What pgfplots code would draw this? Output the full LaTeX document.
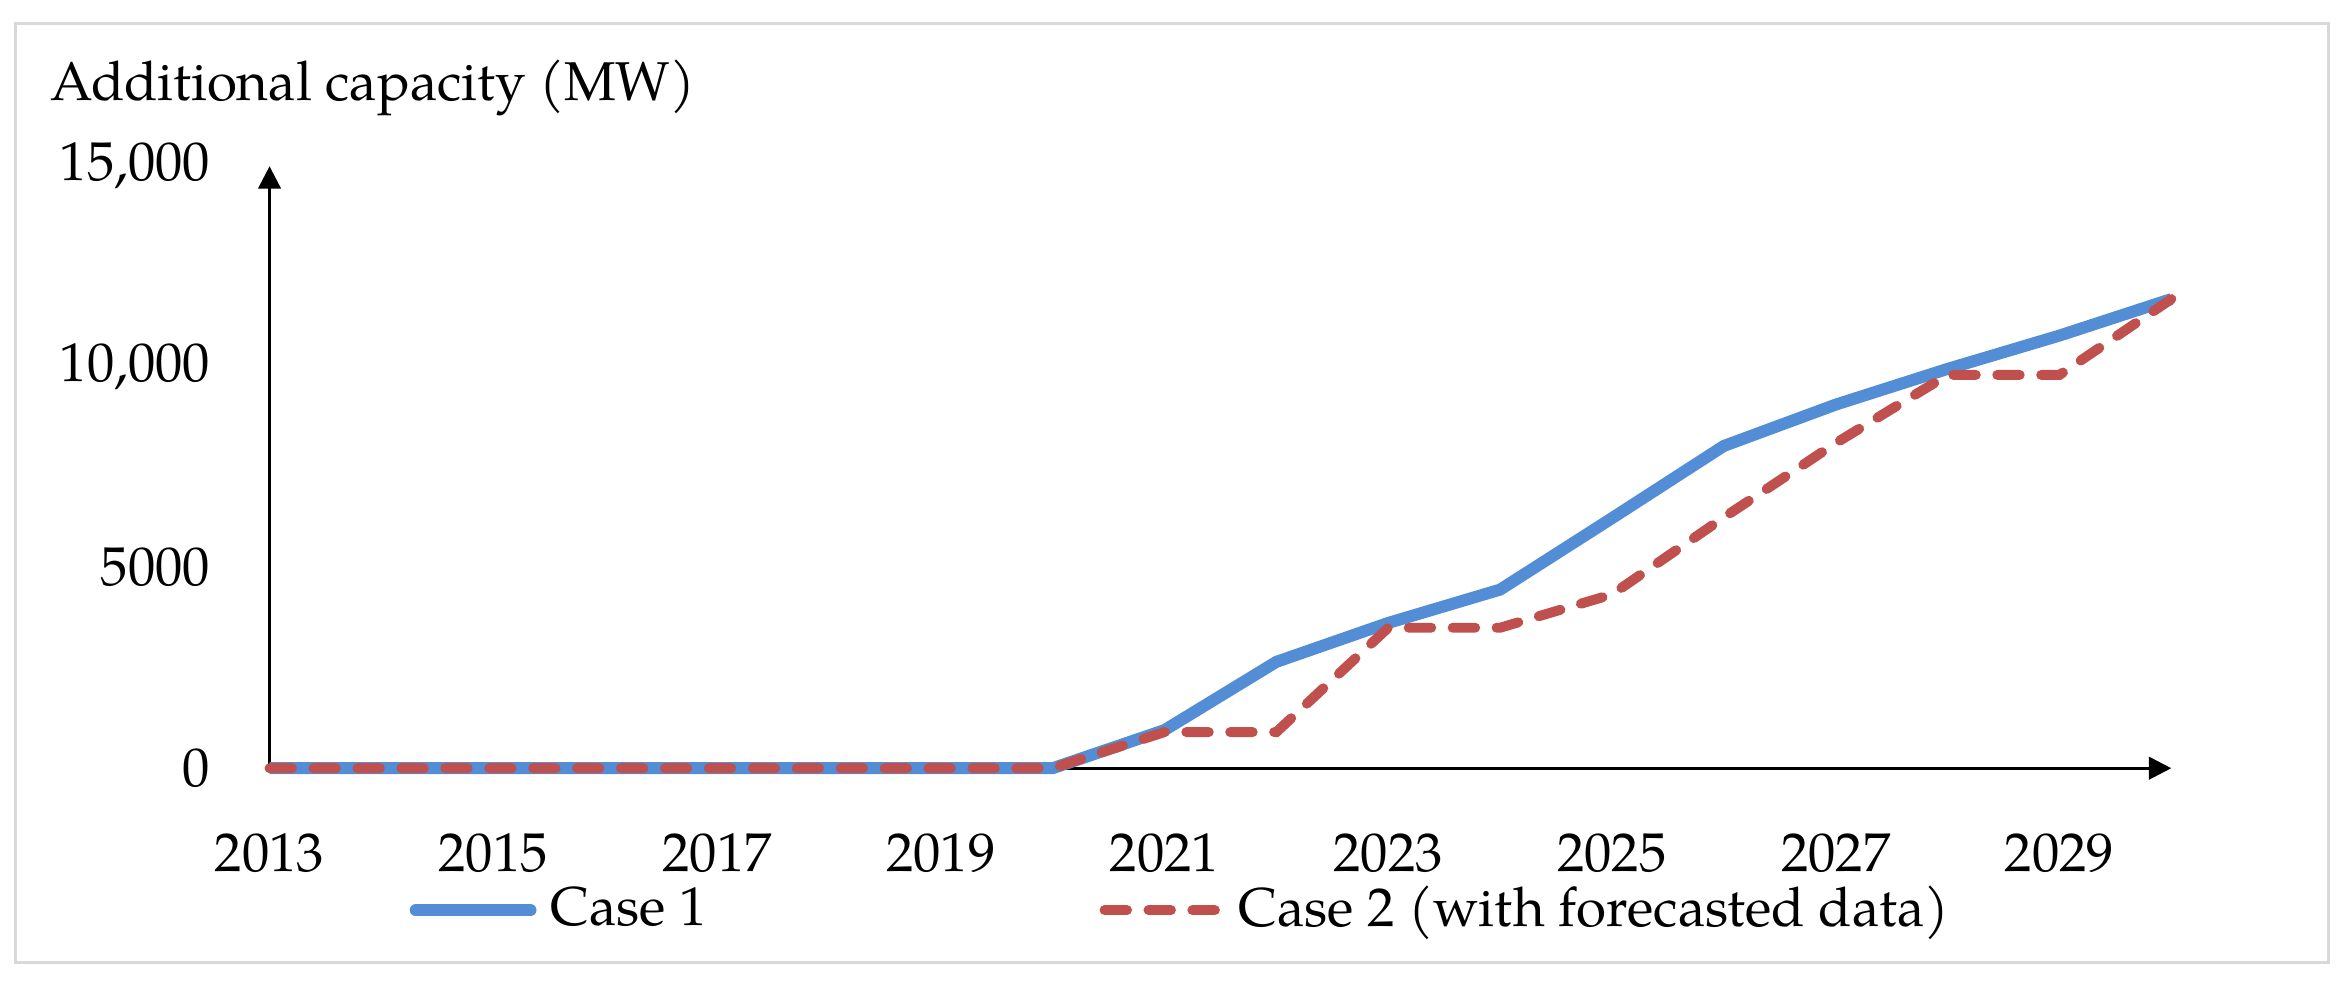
\documentclass[border=0pt]{standalone}
\usepackage{fontspec}
\setmainfont{TeX Gyre Pagella}
\usepackage{pgfplots}
\pgfplotsset{compat=1.18}
\usetikzlibrary{arrows.meta}
\definecolor{caseblue}{RGB}{83,141,213}
\definecolor{casered}{RGB}{192,80,77}
\definecolor{framegray}{RGB}{217,217,217}

\pgfplotstableread{
year cap
2013 0
2014 0
2015 0
2016 0
2017 0
2018 0
2019 0
2020 0
2021 950
2022 2650
2023 3620
2024 4450
2025 6230
2026 8030
2027 9060
2028 9950
2029 10780
2030 11690
}\caseone

\pgfplotstableread{
year cap
2013 0
2014 0
2015 0
2016 0
2017 0
2018 0
2019 0
2020 0
2021 900
2022 900
2023 3500
2024 3500
2025 4330
2026 6250
2027 8100
2028 9800
2029 9800
2030 11690
}\casetwo

\begin{document}
\fontsize{10.95}{13}\selectfont
\begin{tikzpicture}
\begin{axis}[
  at={(0pt,0pt)}, anchor=south west,
  scale only axis, width=381pt, height=120.6pt,
  xmin=2013, xmax=2030, ymin=0, ymax=15000,
  enlargelimits=false, clip=false,
  scaled y ticks=false, scaled x ticks=false,
  axis x line=bottom, axis y line=left,
  axis line style={line width=0.6pt, black},
  x axis line style={-{Triangle[length=4.5pt,width=4.5pt]}},
  y axis line style={-{Triangle[length=4.5pt,width=4.5pt]}},
  xtick={2013,2015,2017,2019,2021,2023,2025,2027,2029},
  xticklabels={2013,2015,2017,2019,2021,2023,2025,2027,2029},
  ytick={0,5000,10000,15000},
  yticklabels={0,5000,{10,000},{15,000}},
  major tick length=0pt,
  xticklabel style={anchor=north, inner sep=0pt, yshift=-12.9pt},
  yticklabel style={anchor=east, inner sep=0pt, xshift=-11.7pt},
  ylabel={Additional capacity (MW)},
  every axis y label/.style={at={(axis description cs:-0.1157,1.1095)}, anchor=base west, inner sep=0pt},
  legend columns=2,
  legend style={at={(axis description cs:0.0732,-0.236)}, anchor=west,
    draw=none, fill=none, inner sep=0pt,
    nodes={inner sep=0pt},
    /tikz/every odd column/.append style={column sep=2.8pt}},
  legend image code/.code={\draw[#1,line cap=round] (0pt,0pt) -- (23pt,0pt);},
]
\addplot[caseblue, line width=2.4pt] table[x=year, y=cap] {\caseone};
\addlegendentry{\makebox[110pt][l]{Case 1}}
\addplot[casered, line width=2pt, line cap=round, dash pattern=on 4.5pt off 4.3pt] table[x=year, y=cap] {\casetwo};
\addlegendentry{Case 2 (with forecasted data)}
\end{axis}
\draw[framegray, line width=0.6pt] (-50.8pt,-39pt) rectangle (412.5pt,149.2pt);
\pgfresetboundingbox
\path (-54pt,-44.4pt) rectangle (416.4pt,153.9pt);
\end{tikzpicture}
\end{document}
